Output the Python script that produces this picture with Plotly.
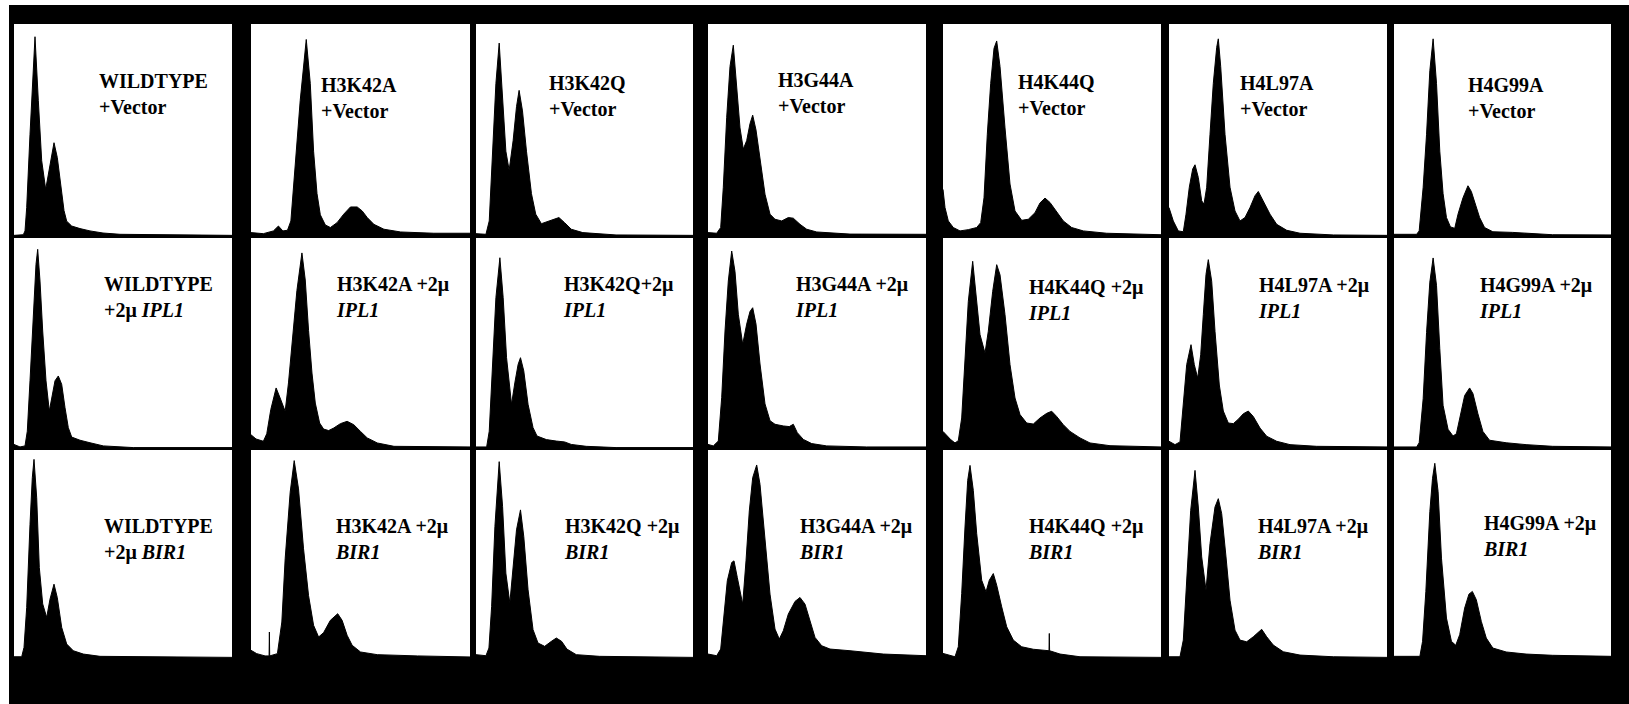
import plotly.graph_objects as go

W, H = 1629, 704

# ---- DNA-content histograms: channel positions and relative cell counts ----
# Row 1: strains carrying empty vector
WT_VEC_CH = [0, 9.3, 11, 12.7, 16, 18.3, 21, 24.3, 27.7, 31.7, 34.3, 40, 43.3, 46.7, 50, 52.7, 57.7, 66, 76, 89, 106, 218]
WT_VEC_N = [0.3, 0.6, 2.4, 13.4, 48, 72, 94, 64, 35.5, 22, 29, 44, 37, 23, 12, 7, 4.7, 3.5, 2.4, 1.4, 0.8, 0.3]

K42A_VEC_CH = [0, 12.3, 22.3, 27.3, 31.7, 36.3, 39.7, 44, 49, 55, 59, 62.3, 65.7, 69, 74, 79, 85.7, 92.3, 99, 105.7, 110.7, 115.7, 122.3, 132.3, 149, 182, 218]
K42A_VEC_N = [1.6, 1.1, 2.4, 4.7, 2.4, 2.7, 7.1, 32, 64, 92.7, 72, 40, 20, 10, 5.2, 4, 6.3, 10.3, 13.7, 13.7, 11.8, 8.7, 5.5, 3.2, 1.9, 1.3, 1.3]

K42Q_VEC_CH = [0, 10, 13.3, 16.7, 20, 23.3, 26.7, 30, 33.3, 37.3, 40.7, 43.3, 46.7, 50.7, 55.7, 60, 65.7, 72.3, 78, 83.3, 89, 95.7, 107.3, 140.7, 218]
K42Q_VEC_N = [1.1, 0.8, 7.1, 40, 72, 91, 64, 40, 31, 45, 61, 68.7, 59, 40, 20, 10.3, 5.8, 6.8, 7.9, 8.7, 6.3, 3.2, 1.6, 0.5, 0.3]

G44A_VEC_CH = [0, 8.7, 12.7, 15.3, 18.7, 22, 25.3, 28.7, 32, 35.3, 38.7, 42, 44.7, 48, 52, 57, 62, 67, 73.7, 80.3, 85.3, 92, 98.7, 108.7, 142, 218]
G44A_VEC_N = [1.6, 1.3, 4, 23, 56, 80, 90, 72, 51, 41, 45, 53, 57, 50, 35.5, 19.7, 10.3, 7.9, 7.1, 8.7, 8.4, 5.5, 3.2, 1.9, 0.9, 0.8]

K44Q_VEC_CH = [0, 2, 5.3, 10.3, 17, 25.3, 33.7, 37.7, 41, 44.3, 47.7, 51, 53.7, 57, 62, 67, 72, 78.7, 85.3, 92, 97, 102, 107, 113.7, 120.3, 128.7, 140.3, 163.7, 218]
K44Q_VEC_N = [22, 13.4, 7.1, 4, 2.4, 3, 4, 6.3, 18, 48, 72, 88.5, 92, 80, 51, 24.5, 11.8, 7.4, 7.9, 11, 15.6, 17.9, 15.8, 11.5, 7.1, 4, 2.4, 1.3, 0.6]

L97A_VEC_CH = [0, 4.3, 9.3, 14.3, 17, 20.3, 23.7, 26, 29.3, 32.7, 35, 37.7, 41, 44.3, 47.7, 49.3, 51.7, 56, 61, 66, 71, 76, 81, 86, 89.3, 94.3, 101, 107.7, 117.7, 131, 164.3, 218]
L97A_VEC_N = [13.4, 7.1, 2.4, 2, 10.3, 23, 31.6, 33.6, 27.6, 16.6, 15, 23, 48, 72, 89, 93, 80, 48, 23, 11.8, 7.1, 8.7, 13.4, 19, 21, 16.6, 10.3, 5.5, 2.7, 1.3, 0.5, 0.3]

G99A_VEC_CH = [0, 22.7, 25.3, 29.3, 32.7, 36, 39.3, 42.7, 46, 49.3, 52.7, 56.7, 61, 64.3, 69.3, 74.3, 77.7, 81, 86, 91, 99.3, 119.3, 139.3, 159.3, 218]
G99A_VEC_N = [0.8, 0.8, 2.4, 23, 48, 78, 93, 72, 40, 20, 8.7, 4.3, 3.6, 10.3, 18, 23.7, 21, 15.8, 8.7, 4, 2, 1.7, 1.1, 0.6, 0.5]

# Row 2: strains carrying high-copy (2 micron) IPL1
WT_IPL1_CH = [0, 6, 11, 13.3, 16, 19.3, 22, 23.7, 26, 28.7, 32, 35.3, 37.7, 41, 44.3, 47.7, 51, 54.3, 57.7, 66, 76, 89.3, 119.3, 218]
WT_IPL1_N = [1.7, 0.5, 1, 8, 32, 64, 87.5, 94.6, 79.5, 55.7, 32, 17.6, 24, 32, 34.3, 30.3, 19.2, 9.7, 5.2, 3.7, 2.5, 1, 0.2, 0.2]

K42A_IPL1_CH = [0, 5, 12.3, 15.7, 19.7, 25, 29, 34, 37.3, 41.7, 45.7, 50.7, 54, 57.3, 60.7, 64, 68.3, 72.3, 77.3, 82.3, 89, 95.7, 102.3, 109, 115.7, 125.7, 142.3, 218]
K42A_IPL1_N = [6.3, 4.3, 3.2, 6.8, 18.3, 28.6, 23.8, 17.5, 31, 56, 75, 92.9, 80, 56, 35.7, 21.4, 11.9, 9, 8.3, 9.5, 11.6, 12.7, 11.1, 7.9, 4.8, 2.4, 0.8, 0.5]

K42Q_IPL1_CH = [0, 10.7, 13.3, 16.7, 20, 24, 27.3, 30.7, 35.7, 39, 42.3, 44.7, 48, 52.3, 57.3, 61.3, 70.7, 80.7, 89, 95.7, 110.7, 140.7, 218]
K42Q_IPL1_N = [0.5, 0.5, 8, 40, 71.6, 90.6, 71.6, 43, 20.8, 31, 39.8, 43, 36.7, 20.8, 9.7, 5.7, 4, 3.3, 2.9, 1.7, 0.8, 0.2, 0.2]

G44A_IPL1_CH = [0, 5.3, 10.3, 13.7, 17, 20.3, 23.7, 27, 30.3, 34.7, 38.7, 42, 44.7, 48, 52, 57, 62, 67, 75.3, 81.3, 85.3, 89.3, 95.3, 103.7, 118.7, 158.7, 218]
G44A_IPL1_N = [1.7, 1, 3.3, 24, 55.7, 79.5, 93.8, 84, 63.7, 49.4, 59, 65, 66.8, 59, 40, 21, 13, 11.3, 10.5, 10.2, 11.3, 7.3, 4.1, 2.1, 1, 0.5, 0.5]

K44Q_IPL1_CH = [0, 3.7, 7.7, 12, 15.3, 18.7, 22, 25.3, 29.7, 33, 37, 42, 45.3, 49.7, 53.7, 57, 62, 67, 72, 77, 83.7, 90.3, 97, 103.7, 108.7, 113.7, 120.3, 127, 137, 147, 167, 218]
K44Q_IPL1_N = [7.9, 6, 4, 2.4, 3.5, 14.3, 39.7, 69.8, 88.9, 71.4, 54, 45.2, 55.6, 74.6, 87.3, 82.5, 63.5, 39.7, 23.8, 15.9, 11.9, 11.4, 14.3, 16.5, 17.5, 15, 11.1, 7.9, 4.8, 2.4, 1.1, 0.5]

L97A_IPL1_CH = [0, 6, 11, 14.3, 17.7, 22, 25.3, 28.7, 31.7, 34.3, 37, 39.3, 42.7, 46, 50.3, 54.3, 59.3, 64.3, 69.3, 74.3, 79.3, 84.3, 91, 97.7, 107.7, 121, 147.7, 218]
L97A_IPL1_N = [3.2, 1.6, 2.9, 20.6, 39.7, 49.2, 39.7, 33.3, 44.4, 63.5, 82.7, 89.7, 79.4, 55.6, 30, 17.6, 11.9, 11.6, 13.7, 16.3, 17.6, 15, 9.5, 5.6, 3.2, 1.6, 0.8, 0.5]

G99A_IPL1_CH = [0, 22.7, 25.3, 29.3, 32.7, 36, 39.3, 42.7, 46, 49.3, 54.3, 59.3, 62.7, 66, 71, 76, 79.3, 84.3, 89.3, 96, 112.7, 132.7, 159.3, 218]
G99A_IPL1_N = [0.5, 0.5, 2.5, 23.5, 55, 79, 90.5, 77.5, 47.3, 20.3, 8.9, 5.7, 6.8, 14, 25, 28.6, 25.9, 16.3, 7.9, 3.7, 2.5, 1.6, 0.8, 0.5]

# Row 3: strains carrying high-copy (2 micron) BIR1
WT_BIR1_CH = [0, 7.7, 10, 12.7, 16, 18.3, 20, 22.7, 25.3, 28.7, 32.7, 36, 40, 43.3, 47.7, 52.7, 59.3, 69.3, 86, 218]
WT_BIR1_N = [0.6, 0.6, 5.1, 24.3, 64.3, 86.7, 95.5, 77, 43.5, 26, 19.5, 28.3, 35.5, 29, 14.7, 6.7, 3.5, 1.9, 0.8, 0.3]

K42A_BIR1_CH = [0, 5.7, 14, 18, 18.3, 18.6, 26.3, 30.7, 34, 39, 43, 47.3, 52.3, 57.3, 62.3, 67.3, 72.3, 79, 86.3, 90.7, 95.7, 100.7, 109, 125.7, 165.7, 218]
K42A_BIR1_N = [3.7, 2.1, 1, 1, 12.5, 1, 2.1, 17.3, 47.7, 79.7, 94.9, 81.3, 52.5, 30, 15.7, 10.1, 12.2, 18.1, 21.3, 18.1, 10.9, 6.1, 2.9, 1.6, 1, 0.5]

K42Q_BIR1_CH = [0, 10, 13, 15.7, 19, 23.3, 26.7, 30, 34, 37.3, 40.7, 44.7, 48, 52.3, 57.3, 62.3, 69, 75.7, 80.7, 86, 91.3, 100.7, 124, 218]
K42Q_BIR1_N = [1.6, 1.1, 4.8, 24.8, 63.2, 94.4, 72.8, 40.8, 26.4, 42.4, 61.6, 71.2, 58.4, 32.8, 13.6, 7.2, 5.6, 8, 9.6, 8, 4.3, 1.6, 0.8, 0.3]

G44A_BIR1_CH = [0, 8.7, 12.7, 16, 19.3, 23.7, 26, 29.3, 34.7, 38, 41.3, 44.7, 48.7, 52, 57, 62, 67, 71.3, 75.3, 80.3, 87, 92, 97, 102, 107, 113.7, 122, 142, 175.3, 218]
G44A_BIR1_N = [1.9, 1.1, 4.3, 21.1, 37.1, 45.9, 46.7, 38.7, 25.9, 46.7, 70.7, 86.7, 92.8, 83.5, 56.3, 30.7, 13.9, 9.1, 13.1, 21.1, 27.2, 29.1, 25.9, 17.9, 9.9, 5.9, 4.3, 3.5, 1.9, 1.1]

K44Q_BIR1_CH = [0, 7, 12, 15.3, 18.7, 22, 24.7, 27, 30.3, 33.7, 38.7, 43, 46.3, 50.3, 53.7, 58.7, 63.7, 70.3, 78.7, 90.3, 106, 106.3, 106.6, 117, 137, 218]
K44Q_BIR1_N = [2.2, 1.4, 0.6, 5.4, 31, 63, 85.4, 92.6, 80.6, 59.8, 37.4, 31.8, 37.4, 40.6, 35, 24.6, 15, 8.6, 5.4, 4.2, 3.5, 11.8, 3.5, 1.9, 0.6, 0.3]

L97A_BIR1_CH = [0, 11, 14.3, 17.7, 21.7, 26, 29.3, 32.7, 37, 41, 46, 49.3, 52.7, 57, 61, 66, 71, 77.7, 84.3, 92.7, 97.7, 104.3, 114.3, 131, 164.3, 218]
L97A_BIR1_N = [0.6, 0.6, 8.6, 37.4, 71, 90.2, 72.6, 48.6, 32.6, 55, 72.6, 76.6, 69.4, 48.6, 27.8, 13.4, 8.6, 7.8, 10.2, 13.8, 10.2, 6.2, 3, 1.4, 0.6, 0.3]

G99A_BIR1_CH = [0, 26, 28.7, 32, 36, 38.7, 41, 44.3, 47.7, 52.7, 57.7, 62, 66, 71, 75.3, 78.7, 82.7, 87.7, 92.7, 99.3, 112.7, 132.7, 159.3, 218]
G99A_BIR1_N = [0.8, 0.8, 8, 32, 70.4, 86.4, 93.6, 80, 48, 19.2, 8, 6.1, 11.2, 24, 30.7, 32, 28, 17.6, 9.6, 4.8, 2.9, 1.9, 1.3, 0.8]

PANELS = [
    [(WT_VEC_CH, WT_VEC_N), (K42A_VEC_CH, K42A_VEC_N), (K42Q_VEC_CH, K42Q_VEC_N),
     (G44A_VEC_CH, G44A_VEC_N), (K44Q_VEC_CH, K44Q_VEC_N), (L97A_VEC_CH, L97A_VEC_N),
     (G99A_VEC_CH, G99A_VEC_N)],
    [(WT_IPL1_CH, WT_IPL1_N), (K42A_IPL1_CH, K42A_IPL1_N), (K42Q_IPL1_CH, K42Q_IPL1_N),
     (G44A_IPL1_CH, G44A_IPL1_N), (K44Q_IPL1_CH, K44Q_IPL1_N), (L97A_IPL1_CH, L97A_IPL1_N),
     (G99A_IPL1_CH, G99A_IPL1_N)],
    [(WT_BIR1_CH, WT_BIR1_N), (K42A_BIR1_CH, K42A_BIR1_N), (K42Q_BIR1_CH, K42Q_BIR1_N),
     (G44A_BIR1_CH, G44A_BIR1_N), (K44Q_BIR1_CH, K44Q_BIR1_N), (L97A_BIR1_CH, L97A_BIR1_N),
     (G99A_BIR1_CH, G99A_BIR1_N)],
]

LABELS = [
    ["WILDTYPE<br>+Vector", "H3K42A<br>+Vector", "H3K42Q<br>+Vector", "H3G44A<br>+Vector",
     "H4K44Q<br>+Vector", "H4L97A<br>+Vector", "H4G99A<br>+Vector"],
    ["WILDTYPE<br>+2μ <i>IPL1</i>", "H3K42A +2μ<br><i>IPL1</i>", "H3K42Q+2μ<br><i>IPL1</i>",
     "H3G44A +2μ<br><i>IPL1</i>", "H4K44Q +2μ<br><i>IPL1</i>", "H4L97A +2μ<br><i>IPL1</i>",
     "H4G99A +2μ<br><i>IPL1</i>"],
    ["WILDTYPE<br>+2μ <i>BIR1</i>", "H3K42A +2μ<br><i>BIR1</i>", "H3K42Q +2μ<br><i>BIR1</i>",
     "H3G44A +2μ<br><i>BIR1</i>", "H4K44Q +2μ<br><i>BIR1</i>", "H4L97A +2μ<br><i>BIR1</i>",
     "H4G99A +2μ<br><i>BIR1</i>"],
]

# ---- panel geometry (pixels) ----
COL_PX = [(14, 232), (251, 470), (476, 693), (708, 926), (943, 1161), (1169, 1387), (1394, 1611)]
ROW_PX = [(24, 236), (238, 448), (450, 658)]
# label placement: (offset from panel left, cap-top offset from panel top)
LABEL_OFF = [
    [(83, 50), (68, 54), (71, 52), (68, 49), (73, 51), (69, 52), (72, 54)],
    [(88, 39), (83, 39), (85, 39), (85, 39), (83, 42), (87, 40), (83, 40)],
    [(88, 69), (82, 69), (86, 69), (89, 69), (83, 69), (86, 69), (87, 66)],
]
CAP_PAD = 6

fig = go.Figure()
layout = {}
annotations = []
k = 0
for r in range(3):
    for c in range(7):
        k += 1
        suffix = "" if k == 1 else str(k)
        ch, n = PANELS[r][c]
        fig.add_trace(go.Scatter(
            x=ch, y=n, xaxis="x" + suffix, yaxis="y" + suffix,
            mode="lines", fill="tozeroy", fillcolor="black",
            line=dict(color="black", width=1), hoverinfo="skip", showlegend=False,
        ))
        x0, x1 = COL_PX[c]
        y0, y1 = ROW_PX[r]
        layout["xaxis" + suffix] = dict(domain=[x0 / W, x1 / W], range=[0, 218],
                                        visible=False, anchor="y" + suffix, fixedrange=True)
        layout["yaxis" + suffix] = dict(domain=[1 - y1 / H, 1 - y0 / H], range=[0, 100],
                                        visible=False, anchor="x" + suffix, fixedrange=True)
        dx, dy = LABEL_OFF[r][c]
        annotations.append(dict(
            text="<b>" + LABELS[r][c] + "</b>", xref="paper", yref="paper",
            x=(x0 + dx) / W, y=1 - (y0 + dy - CAP_PAD) / H,
            xanchor="left", yanchor="top", align="left", showarrow=False,
            font=dict(family="Liberation Serif", size=20, color="black"),
        ))

shapes = [
    dict(type="rect", xref="paper", yref="paper", x0=0, x1=1, y0=1 - 5 / H, y1=1,
         fillcolor="white", line=dict(width=0), layer="below"),
    dict(type="rect", xref="paper", yref="paper", x0=0, x1=9 / W, y0=0, y1=1,
         fillcolor="white", line=dict(width=0), layer="below"),
]

fig.update_layout(
    width=W, height=H, margin=dict(l=0, r=0, t=0, b=0),
    paper_bgcolor="black", plot_bgcolor="white",
    annotations=annotations, shapes=shapes, **layout,
)

fig.write_html("out.html", config={"displayModeBar": False})
